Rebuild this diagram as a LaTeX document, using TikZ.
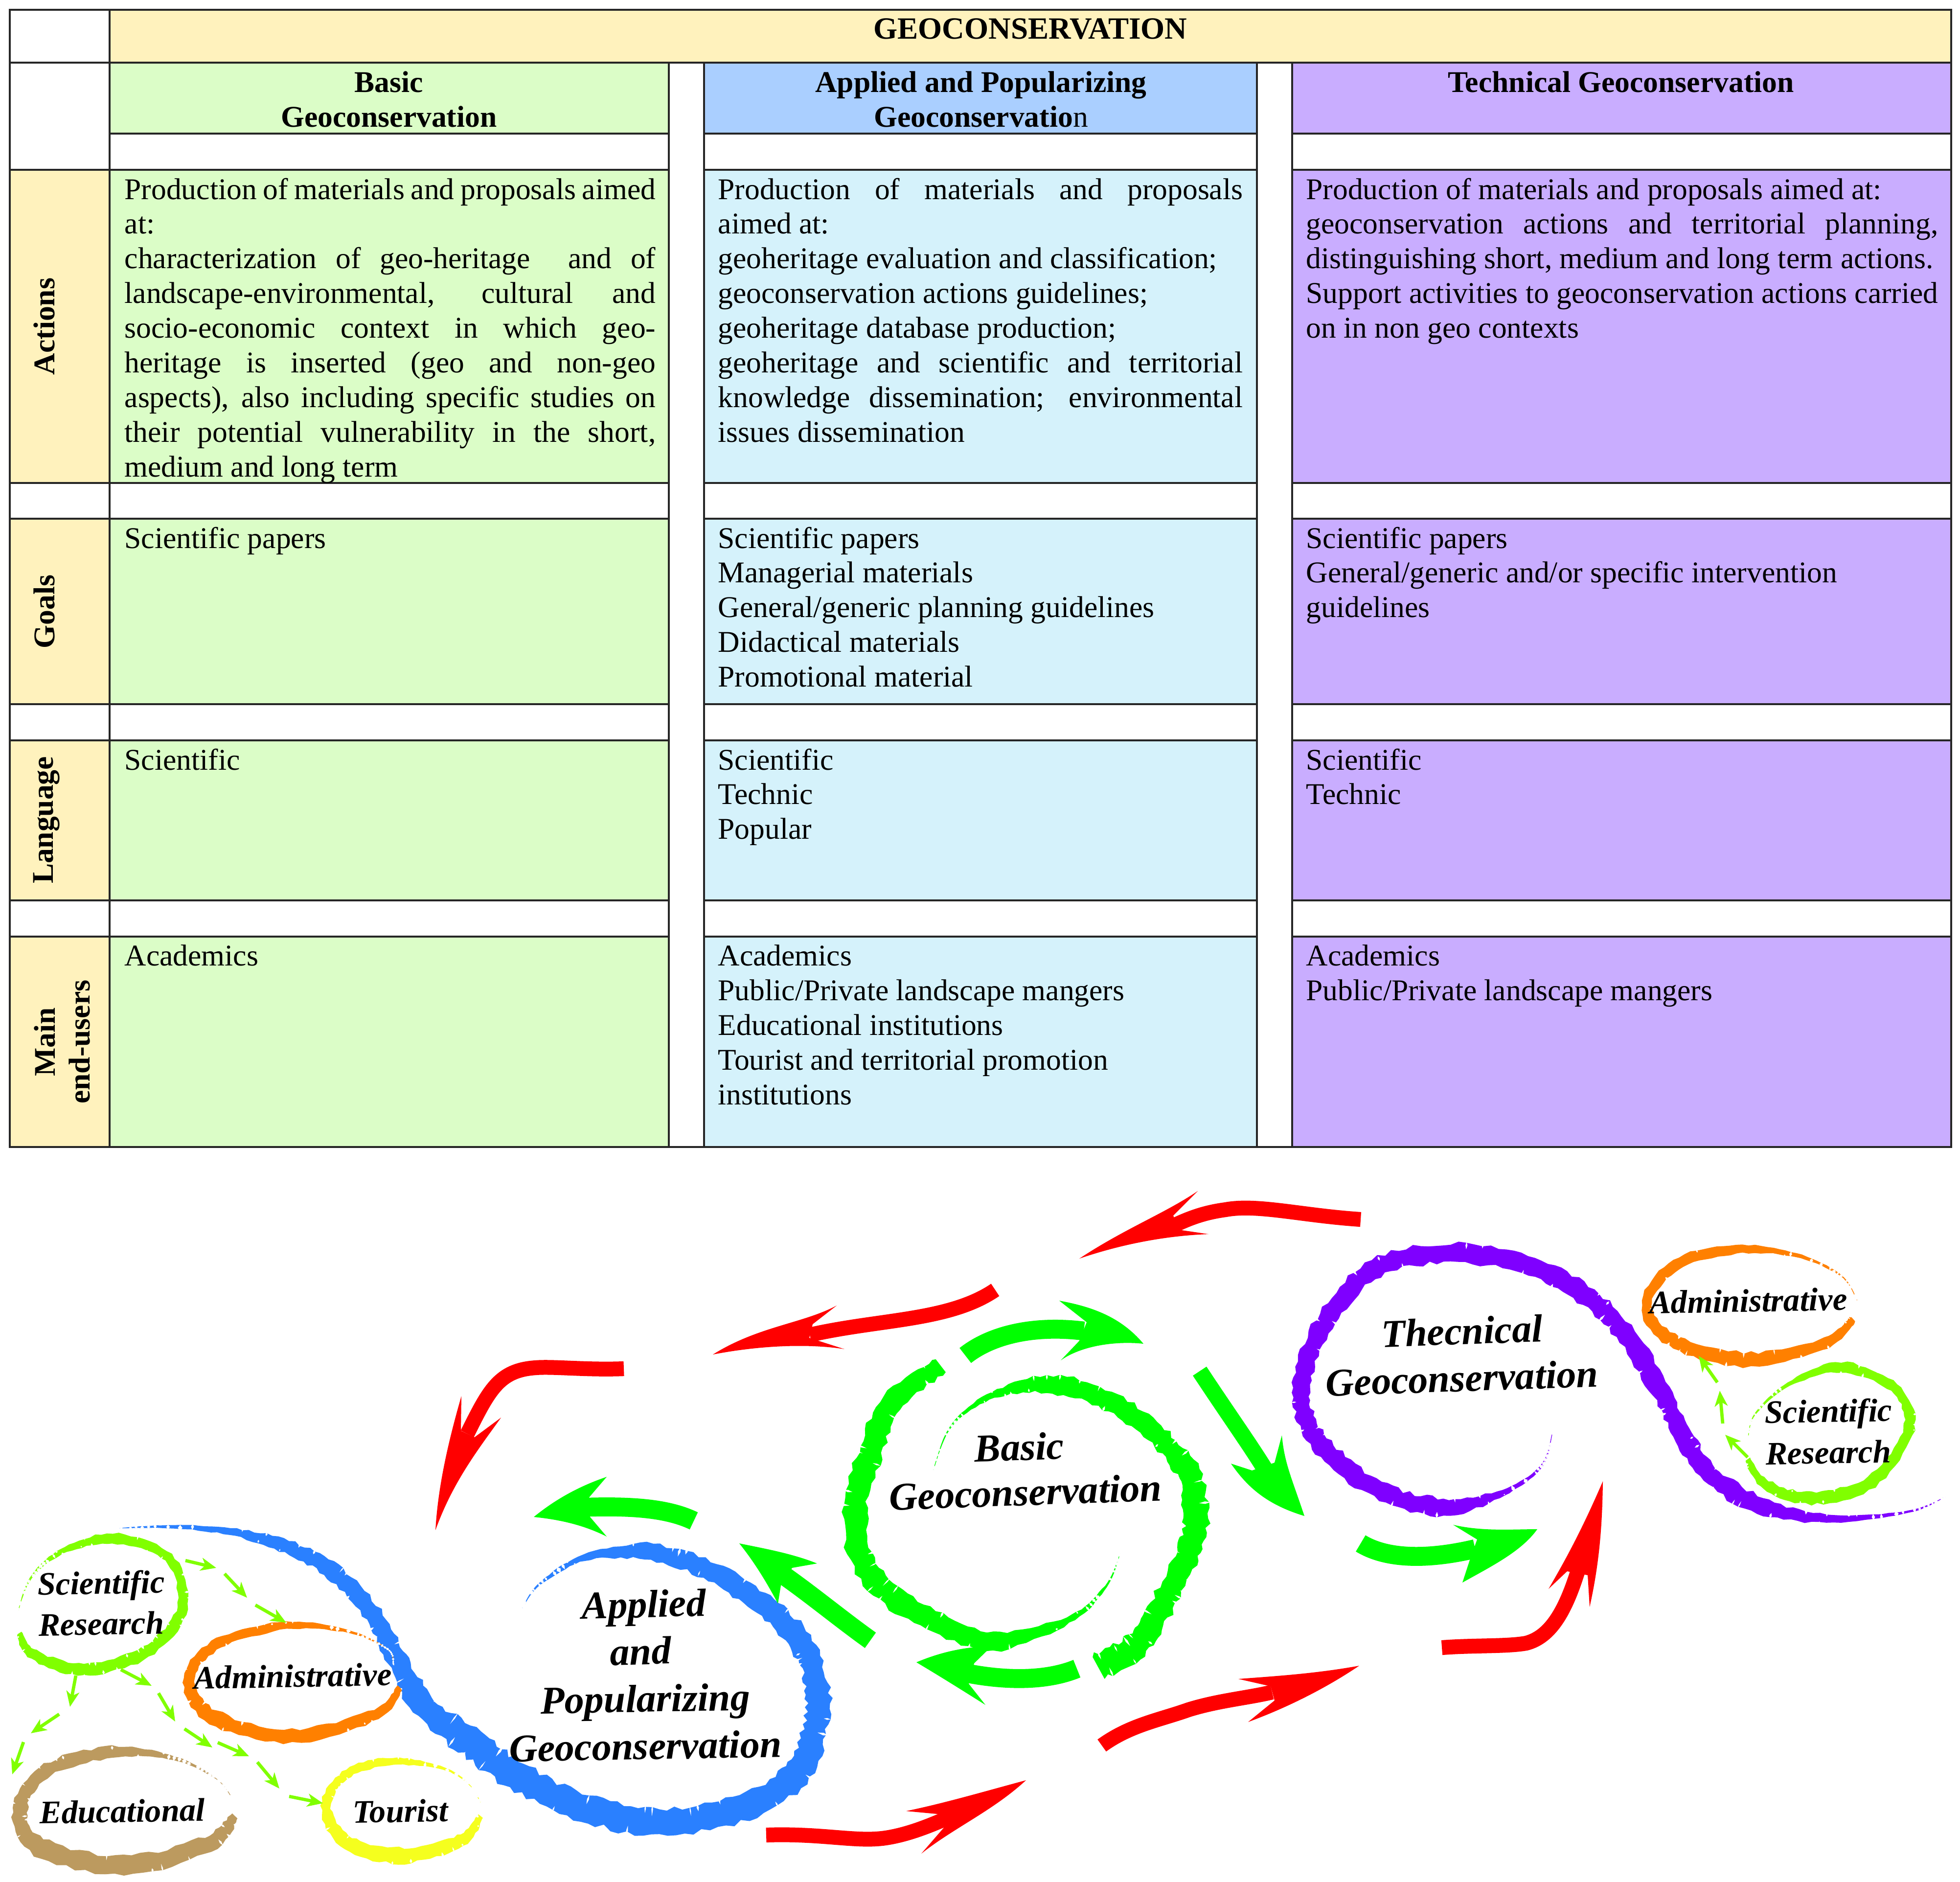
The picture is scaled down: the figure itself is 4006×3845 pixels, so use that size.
\documentclass[tikz,border=0pt]{standalone}
\usepackage{fontspec}
\setmainfont{Liberation Serif}
\usetikzlibrary{arrows.meta}
\definecolor{hdrYellow}{HTML}{FFF2BD}
\definecolor{cellGreen}{HTML}{DBFDC7}
\definecolor{cellBlue}{HTML}{D5F2FB}
\definecolor{hdrBlue}{HTML}{AACFFF}
\definecolor{cellPurple}{HTML}{C9ADFF}
\definecolor{brBlue}{HTML}{2A80FF}
\definecolor{brPurple}{HTML}{7F00FF}
\definecolor{brOrange}{HTML}{FF8000}
\definecolor{brLime}{HTML}{80FF00}
\definecolor{brTan}{HTML}{BC9A5F}
\definecolor{brYellow}{HTML}{F5FF1E}
\definecolor{arRed}{HTML}{FF0000}
\definecolor{arGreen}{HTML}{00FF00}
\newcommand\bodyfont{\fontsize{17.5}{20.17}\selectfont}
\newcommand\boldfont{\fontsize{17.5}{20.17}\selectfont\bfseries}
\newcommand\bigital{\fontsize{22.8}{26}\selectfont\bfseries\itshape}
\newcommand\smallital{\fontsize{19}{23}\selectfont\bfseries\itshape}
\tikzset{
  tableline/.style={draw=black!85,line width=1.1pt},
  bodycell/.style={anchor=north west,inner sep=0pt,align=justify,font=\bodyfont},
  headcell/.style={anchor=north,inner sep=0pt,align=center,font=\boldfont},
  rowlabel/.style={rotate=90,inner sep=0pt,align=center,font=\boldfont},
  bigname/.style={inner sep=0pt,font=\bigital},
  smallname/.style={inner sep=0pt,font=\smallital},
  redshaft/.style={draw=arRed,line width=8.6pt},
  greenshaft/.style={draw=arGreen,line width=11pt},
  limearrow/.style={draw=brLime,line width=1.9pt,-{Stealth[length=9pt,width=7.5pt,inset=2.5pt]}},
}
\newcommand\cellbox[5]{\draw[tableline,fill=#5] (#1,#2) rectangle (#3,#4);}
\newcommand\brScale{1.1}
% variable-width rough brush stroke: list of x/y/width, Catmull-Rom resampled
\newcommand\brushstroke[2]{%
  \foreach \px/\py/\pw [count=\ii] in {#2} {%
    \expandafter\xdef\csname brX\ii\endcsname{\px}%
    \expandafter\xdef\csname brY\ii\endcsname{\py}%
    \expandafter\xdef\csname brW\ii\endcsname{\pw}%
    \xdef\brN{\ii}}%
  \gdef\brOut{}\gdef\brIn{}\gdef\brCut{}%
  \pgfmathtruncatemacro\brM{\brN-1}%
  \foreach \ii in {1,...,\brM} {%
    \pgfmathtruncatemacro\iA{max(\ii-1,1)}%
    \pgfmathtruncatemacro\iB{\ii+1}%
    \pgfmathtruncatemacro\iC{min(\ii+2,\brN)}%
    \edef\brXo{\csname brX\ii\endcsname}\edef\brYo{\csname brY\ii\endcsname}%
    \edef\brWo{\csname brW\ii\endcsname}\edef\brWn{\csname brW\iB\endcsname}%
    \pgfmathsetmacro\brax{\csname brX\iA\endcsname-\brXo}%
    \pgfmathsetmacro\bray{\csname brY\iA\endcsname-\brYo}%
    \pgfmathsetmacro\brcx{\csname brX\iB\endcsname-\brXo}%
    \pgfmathsetmacro\brcy{\csname brY\iB\endcsname-\brYo}%
    \pgfmathsetmacro\brdx{\csname brX\iC\endcsname-\brXo}%
    \pgfmathsetmacro\brdy{\csname brY\iC\endcsname-\brYo}%
    \pgfmathsetmacro\brAx{\brcx-\brax}\pgfmathsetmacro\brAy{\brcy-\bray}%
    \pgfmathsetmacro\brBx{2*\brax+4*\brcx-\brdx}\pgfmathsetmacro\brBy{2*\bray+4*\brcy-\brdy}%
    \pgfmathsetmacro\brCx{-\brax-3*\brcx+\brdx}\pgfmathsetmacro\brCy{-\bray-3*\brcy+\brdy}%
    \ifnum\ii=\brM\def\brKmax{10}\else\def\brKmax{9}\fi
    \foreach \kk in {0,...,\brKmax} {%
      \pgfmathsetmacro\brT{\kk/10}%
      \pgfmathsetmacro\brPx{\brXo+0.5*(\brAx*\brT+\brBx*\brT*\brT+\brCx*\brT*\brT*\brT)}%
      \pgfmathsetmacro\brPy{\brYo+0.5*(\brAy*\brT+\brBy*\brT*\brT+\brCy*\brT*\brT*\brT)}%
      \pgfmathsetmacro\brGx{\brAx+2*\brBx*\brT+3*\brCx*\brT*\brT}%
      \pgfmathsetmacro\brGy{\brAy+2*\brBy*\brT+3*\brCy*\brT*\brT}%
      \pgfmathsetmacro\brL{max(veclen(\brGx,\brGy),0.01)}%
      \pgfmathsetmacro\brTx{\brGx/\brL}\pgfmathsetmacro\brTy{\brGy/\brL}%
      \pgfmathsetmacro\brH{max(\brScale*(\brWo+(\brWn-\brWo)*\brT)/2,0.6)}%
      \pgfmathsetmacro\brHa{\brH*(0.78+0.46*rnd)}%
      \pgfmathsetmacro\brHb{\brH*(0.78+0.46*rnd)}%
      \pgfmathsetmacro\brXa{\brPx-\brTy*\brHa}\pgfmathsetmacro\brYa{\brPy+\brTx*\brHa}%
      \pgfmathsetmacro\brXb{\brPx+\brTy*\brHb}\pgfmathsetmacro\brYb{\brPy-\brTx*\brHb}%
      \ifx\brOut\empty\xdef\brOut{(\brXa,\brYa)}\else\xdef\brOut{\brOut -- (\brXa,\brYa)}\fi
      \ifx\brIn\empty\xdef\brIn{(\brXb,\brYb)}\else\xdef\brIn{(\brXb,\brYb) -- \brIn}\fi
      % feathery white nicks; the thin ends fall apart into specks
      \pgfmathtruncatemacro\brThin{\brH<5?1:0}%
      \pgfmathtruncatemacro\brHit{rnd<(\brThin==1?0.6:0.22)?1:0}%
      \ifnum\brHit=1
        \pgfmathsetmacro\brSide{rnd<0.5?1:-1}%
        \pgfmathsetmacro\brCe{\brThin==1?\brSide*\brH*rnd*0.5:\brSide*\brH*(0.7+0.35*rnd)}%
        \pgfmathsetmacro\brWd{\brThin==1?\brH+1+2*rnd:\brH*(0.2+0.35*rnd)}%
        \pgfmathsetmacro\brLn{\brThin==1?2+3*rnd:1.2+1.5*rnd}%
        \pgfmathsetmacro\brCx{\brPx-\brTy*\brCe}\pgfmathsetmacro\brCy{\brPy+\brTx*\brCe}%
        \pgfmathsetmacro\brQax{\brCx+\brTx*\brLn}\pgfmathsetmacro\brQay{\brCy+\brTy*\brLn}%
        \pgfmathsetmacro\brQbx{\brCx-\brTy*\brWd}\pgfmathsetmacro\brQby{\brCy+\brTx*\brWd}%
        \pgfmathsetmacro\brQcx{\brCx-\brTx*\brLn}\pgfmathsetmacro\brQcy{\brCy-\brTy*\brLn}%
        \pgfmathsetmacro\brQdx{\brCx+\brTy*\brWd}\pgfmathsetmacro\brQdy{\brCy-\brTx*\brWd}%
        \xdef\brCut{\brCut (\brQax,\brQay) -- (\brQbx,\brQby) -- (\brQcx,\brQcy) -- (\brQdx,\brQdy) -- cycle}%
      \fi
    }%
  }%
  \edef\brDo{\noexpand\fill[#1] \brOut -- \brIn -- cycle; \noexpand\fill[white] \brCut;}%
  \brDo}
\begin{document}
\begin{tikzpicture}[x=0.01cm,y=-0.01cm]
\useasboundingbox (0,0) rectangle (4006,3845);
\fill[white] (0,0) rectangle (4006,3845);
% ---------- table ----------
\cellbox{20}{20}{224}{128}{white}
\cellbox{224}{20}{3988}{128}{hdrYellow}
\cellbox{20}{128}{224}{347}{white}
\cellbox{20}{347}{224}{987}{hdrYellow}
\cellbox{20}{987}{224}{1060}{white}
\cellbox{20}{1060}{224}{1439}{hdrYellow}
\cellbox{20}{1439}{224}{1513}{white}
\cellbox{20}{1513}{224}{1840}{hdrYellow}
\cellbox{20}{1840}{224}{1914}{white}
\cellbox{20}{1914}{224}{2344}{hdrYellow}
\cellbox{1367}{128}{1439}{2344}{white}
\cellbox{2569}{128}{2641}{2344}{white}
\cellbox{224}{128}{1367}{273}{cellGreen}
\cellbox{1439}{128}{2569}{273}{hdrBlue}
\cellbox{2641}{128}{3988}{273}{cellPurple}
\cellbox{224}{273}{1367}{347}{white}
\cellbox{1439}{273}{2569}{347}{white}
\cellbox{2641}{273}{3988}{347}{white}
\cellbox{224}{347}{1367}{987}{cellGreen}
\cellbox{1439}{347}{2569}{987}{cellBlue}
\cellbox{2641}{347}{3988}{987}{cellPurple}
\cellbox{224}{987}{1367}{1060}{white}
\cellbox{1439}{987}{2569}{1060}{white}
\cellbox{2641}{987}{3988}{1060}{white}
\cellbox{224}{1060}{1367}{1439}{cellGreen}
\cellbox{1439}{1060}{2569}{1439}{cellBlue}
\cellbox{2641}{1060}{3988}{1439}{cellPurple}
\cellbox{224}{1439}{1367}{1513}{white}
\cellbox{1439}{1439}{2569}{1513}{white}
\cellbox{2641}{1439}{3988}{1513}{white}
\cellbox{224}{1513}{1367}{1840}{cellGreen}
\cellbox{1439}{1513}{2569}{1840}{cellBlue}
\cellbox{2641}{1513}{3988}{1840}{cellPurple}
\cellbox{224}{1840}{1367}{1914}{white}
\cellbox{1439}{1840}{2569}{1914}{white}
\cellbox{2641}{1840}{3988}{1914}{white}
\cellbox{224}{1914}{1367}{2344}{cellGreen}
\cellbox{1439}{1914}{2569}{2344}{cellBlue}
\cellbox{2641}{1914}{3988}{2344}{cellPurple}
% headers
\node[headcell,font=\fontsize{17.95}{20.17}\selectfont\bfseries] (title) at (2106,37) {GEOCONSERVATION};
\node[headcell] (hBasic) at (795,145) {Basic\\Geoconservation};
\node[headcell] (hApplied) at (2005,145) {Applied and Popularizing\\Geoconservatio{\mdseries n}};
\node[headcell] (hTech) at (3313,145) {Technical Geoconservation};
% row labels
\node[rowlabel] (lActions) at (90,667) {Actions};
\node[rowlabel] (lGoals) at (90,1250) {Goals};
\node[rowlabel] (lLanguage) at (95,1676) {Language};
\node[rowlabel] (lMain) at (127,2129) {Main\\end-users};
% body, basic
\node[bodycell,text width=1085*0.2845pt] (a1) at (254,363) {Production of materials and proposals aimed\linebreak at:\par characterization of geo-heritage\ \ and of\linebreak landscape-environmental, cultural and\linebreak socio-economic context in which geo-\linebreak heritage is inserted (geo and non-geo\linebreak aspects), also including specific studies on\linebreak their potential vulnerability in the short,\linebreak medium and long term};
\node[bodycell,text width=1085*0.2845pt] (g1) at (254,1076) {Scientific papers};
\node[bodycell,text width=1085*0.2845pt] (s1) at (254,1529) {Scientific};
\node[bodycell,text width=1085*0.2845pt] (u1) at (254,1930) {Academics};
% body, applied
\node[bodycell,text width=1072*0.2845pt] (a2) at (1467,363) {Production of materials and proposals\linebreak aimed at:\par geoheritage evaluation and classification;\par geoconservation actions guidelines;\par geoheritage database production;\par geoheritage and scientific and territorial\linebreak knowledge dissemination; environmental\linebreak issues dissemination};
\node[bodycell,text width=1072*0.2845pt] (g2) at (1467,1076) {Scientific papers\par Managerial materials\par General/generic planning guidelines\par Didactical materials\par Promotional material};
\node[bodycell,text width=1072*0.2845pt] (s2) at (1467,1529) {Scientific\par Technic\par Popular};
\node[bodycell,text width=1072*0.2845pt] (u2) at (1467,1930) {Academics\par Public/Private landscape mangers\par Educational institutions\par Tourist and territorial promotion\par institutions};
% body, technical
\node[bodycell,text width=1291*0.2845pt] (a3) at (2669,363) {Production of materials and proposals aimed at:\par geoconservation actions and territorial planning,\linebreak distinguishing short, medium and long term actions.\par Support activities to geoconservation actions carried\linebreak on in non geo contexts};
\node[bodycell,text width=1291*0.2845pt] (g3) at (2669,1076) {Scientific papers\par General/generic and/or specific intervention\par guidelines};
\node[bodycell,text width=1291*0.2845pt] (s3) at (2669,1529) {Scientific\par Technic};
\node[bodycell,text width=1291*0.2845pt] (u3) at (2669,1930) {Academics\par Public/Private landscape mangers};
% ---------- brush rings ----------
\pgfmathsetseed{11}
\brushstroke{arGreen}{1907/3005/0,1945/2913/3,2030/2851/12,2152/2829/34,2275/2867/36,2367/2936/38,2429/3012/42,2444/3112/44,2421/3188/44,2367/3295/44,2321/3364/46,2244/3406/46}
\brushstroke{arGreen}{2290/3173/0,2260/3242/4,2183/3311/12,2030/3353/36,1891/3303/40,1784/3226/42,1746/3104/44,1776/2974/44,1822/2867/40,1922/2790/32}
\brushstroke{brBlue}{1068/3286/0,1102/3238/4,1194/3183/12,1320/3171/30,1446/3207/36,1550/3274/40,1630/3346/42,1670/3442/42,1665/3539/44,1619/3635/48,1492/3702/48,1332/3723/48,1182/3690/48,1056/3629/52,964/3563/52,872/3491/46,815/3400/38,769/3310/34,689/3219/30,597/3165/26,482/3132/14,356/3120/6,241/3123/0}
\brushstroke{brPurple}{3173/2928/0,3150/2997/4,3073/3050/10,2950/3081/36,2827/3050/32,2720/2974/36,2666/2890/32,2666/2798/32,2720/2683/36,2812/2591/34,2950/2561/36,3104/2580/34,3226/2637/36,3318/2721/36,3395/2844/34,3441/2936/32,3503/3020/36,3610/3081/30,3748/3104/14,3902/3089/4,3978/3058/0}
\renewcommand\brScale{1.35}
\brushstroke{brOrange}{3787/2695/10,3733/2744/16,3579/2779/22,3426/2744/20,3365/2668/16,3426/2584/16,3549/2553/14,3671/2565/6,3763/2607/2,3797/2660/0}
\brushstroke{brLime}{3572/2982/8,3610/3035/16,3702/3062/18,3825/3028/18,3902/2920/16,3871/2836/14,3763/2794/16,3656/2829/6,3587/2890/2,3572/2943/0}
\brushstroke{brLime}{40/3337/8,69/3382/16,172/3412/18,298/3376/18,373/3286/16,344/3183/14,230/3144/16,126/3171/8,63/3225/3,37/3292/0}
\brushstroke{brOrange}{817/3448/8,769/3503/16,597/3548/22,436/3509/22,385/3430/16,448/3358/16,585/3322/12,712/3334/4,792/3370/1,804/3400/0}
\brushstroke{brTan}{480/3711/12,425/3768/24,253/3813/30,80/3774/28,40/3696/22,98/3617/20,230/3581/18,356/3593/6,442/3635/1,476/3677/0}
\brushstroke{brYellow}{982/3711/8,941/3762/18,827/3792/24,712/3768/22,666/3690/14,712/3623/14,804/3599/12,907/3614/4,959/3647/1,982/3683/0}
% ---------- red arrows ----------
\coordinate (r1s) at (2781,2492); \coordinate (r1t) at (2206,2572);
\draw[redshaft] (r1s) .. controls (2660,2484) and (2570,2460) .. (2505,2472) .. controls (2460,2478) and (2430,2490) .. (2398,2505);
\fill[arRed] (r1t) .. controls (2300,2510) and (2380,2480) .. (2448,2434) -- (2398,2484) -- (2409,2513) -- (2470,2522) .. controls (2390,2525) and (2300,2540) .. (r1t) -- cycle;
\coordinate (r2s) at (2034,2636); \coordinate (r2t) at (1457,2768);
\draw[redshaft] (r2s) .. controls (1940,2700) and (1800,2695) .. (1655,2728);
\fill[arRed] (r2t) .. controls (1550,2710) and (1640,2705) .. (1710,2668) -- (1661,2706) -- (1654,2734) -- (1726,2757) .. controls (1650,2745) and (1550,2750) .. (r2t) -- cycle;
\coordinate (r3s) at (1275,2797); \coordinate (r3t) at (890,3127);
\draw[redshaft] (r3s) .. controls (1200,2800) and (1130,2792) .. (1095,2795) .. controls (1020,2800) and (1000,2840) .. (955,2930);
\fill[arRed] (r3t) .. controls (895,3040) and (915,2950) .. (943,2853) -- (942,2924) -- (970,2937) -- (1024,2897) .. controls (975,2965) and (925,3030) .. (r3t) -- cycle;
\coordinate (r4s) at (1566,3750); \coordinate (r4t) at (2097,3638);
\draw[redshaft] (r4s) .. controls (1680,3746) and (1750,3765) .. (1810,3756) .. controls (1850,3750) and (1890,3735) .. (1925,3720);
\fill[arRed] (r4t) .. controls (2015,3660) and (1930,3685) .. (1852,3701) -- (1916,3707) -- (1929,3735) -- (1883,3788) .. controls (1950,3735) and (2030,3700) .. (r4t) -- cycle;
\coordinate (r5s) at (2252,3567); \coordinate (r5t) at (2778,3404);
\draw[redshaft] (r5s) .. controls (2310,3525) and (2370,3515) .. (2429,3494) .. controls (2490,3475) and (2550,3470) .. (2600,3458);
\fill[arRed] (r5t) .. controls (2690,3420) and (2610,3425) .. (2531,3431) -- (2597,3446) -- (2605,3475) -- (2551,3519) .. controls (2630,3490) and (2710,3450) .. (r5t) -- cycle;
\coordinate (r6s) at (2947,3367); \coordinate (r6t) at (3276,3027);
\draw[redshaft] (r6s) .. controls (3010,3362) and (3080,3365) .. (3119,3358) .. controls (3170,3345) and (3200,3290) .. (3225,3210);
\fill[arRed] (r6t) .. controls (3240,3110) and (3210,3170) .. (3165,3247) -- (3203,3211) -- (3245,3219) -- (3249,3284) .. controls (3270,3190) and (3275,3110) .. (r6t) -- cycle;
% ---------- green arrows ----------
\coordinate (g1s) at (1973,2770); \coordinate (g1t) at (2337,2746);
\draw[greenshaft] (g1s) .. controls (2030,2725) and (2120,2708) .. (2215,2720);
\fill[arGreen] (g1t) .. controls (2290,2690) and (2230,2670) .. (2165,2658) -- (2221,2702) -- (2206,2740) -- (2168,2780) .. controls (2210,2750) and (2280,2740) .. (g1t) -- cycle;
\coordinate (g2s) at (2452,2802); \coordinate (g2t) at (2666,3098);
\draw[greenshaft,line width=9.5pt] (g2s) .. controls (2510,2890) and (2560,2960) .. (2590,3010);
\fill[arGreen] (g2t) .. controls (2640,3020) and (2625,2990) .. (2620,2933) -- (2605,2989) -- (2559,3005) -- (2516,2991) .. controls (2550,3040) and (2590,3075) .. (g2t) -- cycle;
\coordinate (g3s) at (2781,3154); \coordinate (g3t) at (3142,3125);
\draw[greenshaft] (g3s) .. controls (2840,3190) and (2930,3185) .. (3015,3165);
\fill[arGreen] (g3t) .. controls (3090,3125) and (3030,3130) .. (2970,3116) -- (3019,3146) -- (3004,3188) -- (2989,3234) .. controls (3050,3200) and (3110,3170) .. (g3t) -- cycle;
\coordinate (g4s) at (2201,3410); \coordinate (g4t) at (1873,3397);
\draw[greenshaft] (g4s) .. controls (2140,3435) and (2060,3435) .. (1980,3420);
\fill[arGreen] (g4t) .. controls (1925,3375) and (1975,3365) .. (2027,3364) -- (1991,3399) -- (1980,3441) -- (2014,3484) .. controls (1960,3450) and (1920,3425) .. (g4t) -- cycle;
\coordinate (g5s) at (1779,3352); \coordinate (g5t) at (1511,3154);
\draw[greenshaft] (g5s) .. controls (1720,3310) and (1660,3260) .. (1600,3218);
\fill[arGreen] (g5t) .. controls (1565,3165) and (1620,3175) .. (1670,3195) -- (1619,3204) -- (1596,3240) -- (1590,3277) .. controls (1565,3230) and (1540,3190) .. (g5t) -- cycle;
\coordinate (g6s) at (1418,3108); \coordinate (g6t) at (1091,3100);
\draw[greenshaft] (g6s) .. controls (1360,3080) and (1280,3078) .. (1200,3080);
\fill[arGreen] (g6t) .. controls (1140,3060) and (1190,3035) .. (1240,3018) -- (1204,3060) -- (1206,3100) -- (1240,3140) .. controls (1190,3115) and (1140,3105) .. (g6t) -- cycle;
% ---------- small dashed lime arrows ----------
\coordinate (ra1) at (3572,2978); \coordinate (ra2) at (3526,2932);
\coordinate (ra3) at (3521,2909); \coordinate (ra4) at (3515,2842);
\coordinate (ra5) at (3510,2825); \coordinate (ra6) at (3472,2771);
\draw[limearrow] (ra1) -- (ra2);
\draw[limearrow] (ra3) -- (ra4);
\draw[limearrow] (ra5) -- (ra6);
\coordinate (la1) at (379,3189); \coordinate (la2) at (442,3204);
\coordinate (la3) at (459,3216); \coordinate (la4) at (505,3265);
\coordinate (la5) at (522,3280); \coordinate (la6) at (585,3316);
\draw[limearrow] (la1) -- (la2);
\draw[limearrow] (la3) -- (la4);
\draw[limearrow] (la5) -- (la6);
\coordinate (lb1) at (247,3412); \coordinate (lb2) at (310,3445);
\coordinate (lb3) at (324,3460); \coordinate (lb4) at (358,3518);
\coordinate (lb5) at (377,3533); \coordinate (lb6) at (434,3571);
\coordinate (lb7) at (445,3561); \coordinate (lb8) at (509,3589);
\coordinate (lb9) at (526,3601); \coordinate (lb10) at (571,3655);
\coordinate (lb11) at (591,3671); \coordinate (lb12) at (660,3685);
\draw[limearrow] (lb1) -- (lb2);
\draw[limearrow] (lb3) -- (lb4);
\draw[limearrow] (lb5) -- (lb6);
\draw[limearrow] (lb7) -- (lb8);
\draw[limearrow] (lb9) -- (lb10);
\draw[limearrow] (lb11) -- (lb12);
\coordinate (lc1) at (155,3424); \coordinate (lc2) at (143,3488);
\coordinate (lc3) at (121,3503); \coordinate (lc4) at (63,3542);
\coordinate (lc5) at (48,3560); \coordinate (lc6) at (25,3626);
\draw[limearrow] (lc1) -- (lc2);
\draw[limearrow] (lc3) -- (lc4);
\draw[limearrow] (lc5) -- (lc6);
% ---------- ring labels ----------
\node[bigname,rotate=2] (nThec) at (2988,2720) {Thecnical};
\node[bigname,rotate=2] (nThecG) at (2988,2816) {Geoconservation};
\node[bigname,rotate=2] (nBasic) at (2083,2957) {Basic};
\node[bigname,rotate=2] (nBasicG) at (2096,3049) {Geoconservation};
\node[bigname,rotate=1.5] (nApp) at (1316,3286) {Applied};
\node[bigname,rotate=1.5] (nAnd) at (1309,3374) {and};
\node[bigname,rotate=1] (nPop) at (1319,3479) {Popularizing};
\node[bigname,rotate=1] (nAppG) at (1319,3568) {Geoconservation};
\node[smallname,rotate=1] (nAdmR) at (3573,2658) {Administrative};
\node[smallname,rotate=1] (nSciR) at (3737,2890) {Scientific};
\node[smallname,rotate=1] (nResR) at (3737,2968) {Research};
\node[smallname,rotate=1] (nSciL) at (207,3241) {Scientific};
\node[smallname,rotate=1] (nResL) at (207,3318) {Research};
\node[smallname,rotate=1] (nAdmL) at (598,3425) {Administrative};
\node[smallname,rotate=1] (nEdu) at (250,3701) {Educational};
\node[smallname,rotate=1] (nTour) at (818,3701) {Tourist};
\end{tikzpicture}
\end{document}
